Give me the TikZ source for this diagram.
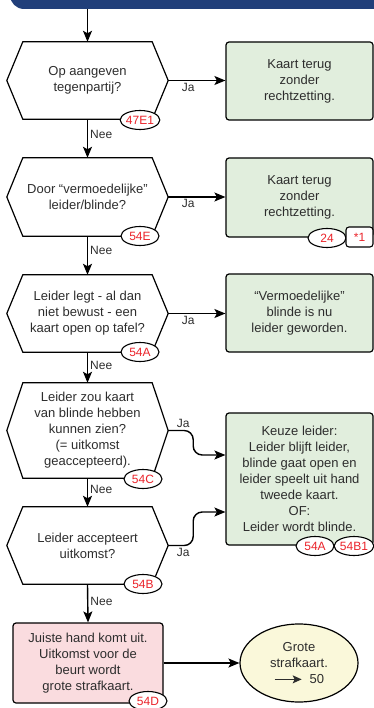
\documentclass[tikz,border=0pt]{standalone}
\usepackage{fontspec}
\setmainfont{Liberation Sans}
\usetikzlibrary{arrows.meta,calc,positioning,shapes.geometric}
\definecolor{BannerBlue}{RGB}{33,63,122}
\definecolor{BoxGreen}{RGB}{225,238,221}
\definecolor{BoxPink}{RGB}{250,220,223}
\definecolor{EindGeel}{RGB}{250,248,218}
\definecolor{RefRed}{RGB}{235,35,42}
\definecolor{TekstGrijs}{RGB}{45,45,45}
\newcommand{\vraag}[4]{%
  \node[vraagtekst,minimum height=#3] (#1) at (87.5,#2) {#4};
  \draw[rand] (#1.west) -- ($(#1.north west)+(16,0)$) -- ($(#1.north east)+(-16,0)$)
    -- (#1.east) -- ($(#1.south east)+(-16,0)$) -- ($(#1.south west)+(16,0)$) -- cycle;}
\newcommand{\strafpijl}{\tikz[baseline=-0.6ex]\draw[-{Stealth[length=9pt,width=8pt,inset=2pt]},line width=1.3pt] (0pt,0pt)--(27pt,0pt);}

\begin{document}
\begin{tikzpicture}[x=1pt,y=-1pt,
  font=\fontsize{13}{16}\selectfont,
  rand/.style={line width=1.2pt,draw=black,line join=miter},
  vraagtekst/.style={minimum width=161pt,inner sep=0pt,align=center,text=TekstGrijs},
  actie/.style={draw,line width=1.2pt,fill=BoxGreen,rounded corners=3pt,minimum width=147pt,
    align=center,text=TekstGrijs,inner sep=2pt},
  ref/.style={ellipse,draw,line width=1.1pt,fill=white,minimum width=38pt,minimum height=19pt,
    inner sep=0pt,text=RefRed,font=\fontsize{12}{14}\selectfont},
  refbox/.style={draw,line width=1.1pt,fill=white,rounded corners=3pt,minimum width=27pt,
    minimum height=20pt,inner sep=0pt,text=RefRed,font=\fontsize{12}{14}\selectfont},
  pijl/.style={-{Stealth[length=11pt,width=9pt,inset=2.5pt]},line width=1.4pt},
  lbl/.style={text=TekstGrijs,font=\fontsize{12}{14}\selectfont,inner sep=2pt}]
  \useasboundingbox (0,0) rectangle (374,708);
  % balk bovenaan
  \fill[BannerBlue,rounded corners=14pt] (10,-40) rectangle (420,9);
  \coordinate (start) at (87.5,9);

  % vragen
  \vraag{v1}{80.5}{77pt}{Op aangeven\\tegenpartij?}
  \vraag{v2}{197}{78pt}{Door “vermoedelijke”\\leider/blinde?}
  \vraag{v3}{313.5}{77pt}{Leider legt - al dan\\niet bewust - een\\kaart open op tafel?}
  \vraag{v4}{430.5}{95pt}{Leider zou kaart\\van blinde hebben\\kunnen zien?\\(= uitkomst\\geaccepteerd).}
  \vraag{v5}{545.5}{77pt}{Leider accepteert\\uitkomst?}

  % uitkomsten
  \node[actie,minimum height=78pt] (a1) at (299.5,81) {Kaart terug\\zonder\\rechtzetting.};
  \node[actie,minimum height=79pt] (a2) at (299.5,197.5) {Kaart terug\\zonder\\rechtzetting.};
  \node[actie,minimum height=78pt] (a3) at (299.5,313) {“Vermoedelijke”\\blinde is nu\\leider geworden.};
  \node[actie,minimum height=132pt] (a4) at (299.5,479) {Keuze leider:\\Leider blijft leider,\\blinde gaat open en\\leider speelt uit hand\\tweede kaart.\\OF:\\Leider wordt blinde.};
  \node[actie,fill=BoxPink,minimum width=150pt,minimum height=80pt] (p1) at (88,663)
    {Juiste hand komt uit.\\Uitkomst voor de\\beurt wordt\\grote strafkaart.};
  \node[ellipse,draw,line width=1.2pt,fill=EindGeel,minimum width=118pt,minimum height=78pt,
    inner sep=0pt,align=center,text=TekstGrijs] (e1) at (299,663) {Grote\\strafkaart.\\\strafpijl\ \ 50};

  % pijlen
  \draw[pijl] (start) -- (v1.north);
  \draw[pijl] (v1.south) -- node[lbl,right,pos=0.4] {Nee} (v2.north);
  \draw[pijl] (v2.south) -- node[lbl,right,pos=0.38] {Nee} (v3.north);
  \draw[pijl] (v3.south) -- node[lbl,right,pos=0.42] {Nee} (v4.north);
  \draw[pijl] (v4.south) -- node[lbl,right,pos=0.38] {Nee} (v5.north);
  \draw[pijl] (v5.south) -- node[lbl,right,pos=0.44] {Nee} (p1.north);
  \draw[pijl] (v1.east) -- node[lbl,below,pos=0.35] {Ja} (v1.east -| a1.west);
  \draw[pijl] (v2.east) -- node[lbl,below,pos=0.35] {Ja} (v2.east -| a2.west);
  \draw[pijl] (v3.east) -- node[lbl,below,pos=0.35] {Ja} (v3.east -| a3.west);
  \draw[pijl,rounded corners=9pt] (v4.east) -- node[lbl,above,pos=0.6] {Ja} ++(25,0)
    |- ($(a4.west)+(0,-24)$);
  \draw[pijl,rounded corners=9pt] (v5.east) -- node[lbl,below,pos=0.6] {Ja} ++(25,0)
    |- ($(a4.west)+(0,33)$);
  \draw[pijl] (p1.east) -- (e1.west);

  % verwijzingen
  \node[ref] (r1) at (140,120) {47E1};
  \node[ref] (r2) at (140,236) {54E};
  \node[ref] (r3) at (140,352) {54A};
  \node[ref] (r4) at (143,479) {54C};
  \node[ref] (r5) at (143,584) {54B};
  \node[ref] (r6) at (327,238) {24};
  \node[refbox] (r7) at (359.5,237) {*1};
  \node[ref] (r8) at (315,546) {54A};
  \node[ref] (r9) at (354,546) {54B1};
  \node[ref] (r10) at (148,701) {54D};
\end{tikzpicture}
\end{document}
